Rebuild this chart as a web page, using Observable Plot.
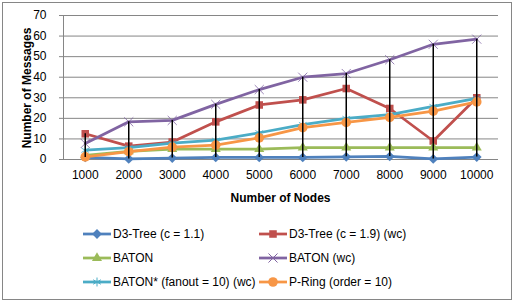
<!DOCTYPE html>
<html><head><meta charset="utf-8">
<script src="https://cdn.jsdelivr.net/npm/d3@7"></script>
<script src="https://cdn.jsdelivr.net/npm/@observablehq/plot@0.6"></script>
<style>
body{margin:0;background:#fff;font-family:"Liberation Sans",Arial,sans-serif;}
#wrap{position:relative;width:514px;height:302px;overflow:hidden;background:#fff;}
#chart{position:absolute;left:0;top:0;}
#border{position:absolute;left:2px;top:2px;width:510px;height:298px;border:1px solid #868686;box-sizing:border-box;pointer-events:none;}
#legend{position:absolute;left:83px;top:222px;display:grid;grid-template-columns:176px auto;grid-auto-rows:24px;font-size:12px;color:#000;}
.item{display:flex;align-items:center;white-space:nowrap;}
.item svg{margin-right:2px;flex:none;}
.title{position:absolute;font-weight:bold;font-size:12px;color:#000;white-space:nowrap;line-height:14px;}
#xtitle{left:180px;width:201px;text-align:center;top:191px;}
#ytitle{left:27px;top:88px;width:0;height:0;}
#ytitle span{position:absolute;left:0;top:0;transform:translate(-50%,-50%) rotate(-90deg);}
[aria-label="y-axis tick"]{stroke:#868686;}
</style></head>
<body>
<div id="wrap"><div id="chart"></div>
<div id="xtitle" class="title">Number of Nodes</div>
<div id="ytitle" class="title"><span>Number of Messages</span></div>
<div id="legend"></div><div id="border"></div></div>
<script>
const nodes = ["1000","2000","3000","4000","5000","6000","7000","8000","9000","10000"];
const seriesNames = ["D3-Tree (c = 1.1)","D3-Tree (c = 1.9) (wc)","BATON","BATON (wc)","BATON* (fanout = 10) (wc)","P-Ring (order = 10)"];
const d3tree11 = [1, 0.3, 0.7, 1, 1, 1, 1.3, 1.5, 0.3, 1.2];
const d3tree19wc = [12.5, 6.5, 8.5, 18.3, 26.5, 29, 34.5, 24.8, 9, 30];
const baton = [2, 4, 5, 5, 5, 5.8, 5.8, 5.8, 5.8, 5.8];
const batonWc = [7.8, 18.3, 19, 26.8, 34, 40, 41.8, 48.5, 56, 58.5];
const batonStarWc = [4.5, 5.8, 8, 9.4, 13, 17, 20, 21.8, 25.8, 29.7];
const pring = [1.3, 3.8, 6, 7, 10.5, 15.5, 18, 20.5, 23.5, 28];
const yTicks = [0,10,20,30,40,50,60,70];

const seriesValues = [d3tree11, d3tree19wc, baton, batonWc, batonStarWc, pring];
const colors = ["#4F81BD","#C0504D","#9BBB59","#8064A2","#4BACC6","#F79646"];
const symbols = ["diamond2","square2","triangle2","times","asterisk","circle"];
const radii = [4.4, 4.8, 4.8, 4.2, 4.2, 4.8];
const strokeSym = [false,false,false,true,true,false];

const rows = [];
seriesValues.forEach((vals, s) => vals.forEach((v, i) => rows.push({s, name: seriesNames[s], i: i + 1, node: nodes[i], v})));
const stats = nodes.map((n, i) => {
  const vs = seriesValues.map(a => a[i]);
  return {i: i + 1, lo: d3.min(vs), hi: d3.max(vs)};
});

const marks = [
  Plot.ruleY(yTicks, {stroke: "#868686", strokeWidth: 1}),
  Plot.ruleX([0.5], {stroke: "#868686", strokeWidth: 1})
];
seriesValues.forEach((vals, s) => {
  const d = rows.filter(r => r.s === s);
  marks.push(Plot.lineY(d, {x: "i", y: "v", stroke: colors[s], strokeWidth: 2.75}));
  if (strokeSym[s]) {
    marks.push(Plot.dot(d, {x: "i", y: "v", symbol: symbols[s], stroke: colors[s], strokeWidth: 1, r: radii[s], strokeOpacity: 0.8}));
  } else {
    marks.push(Plot.dot(d, {x: "i", y: "v", symbol: symbols[s], fill: colors[s], stroke: "none", r: radii[s]}));
  }
});
marks.push(Plot.ruleX(stats, {x: "i", y1: "lo", y2: "hi", stroke: "#000", strokeWidth: 1.5}));

const chart = Plot.plot({
  width: 514, height: 210,
  marginTop: 15, marginBottom: 51, marginLeft: 63, marginRight: 16,
  style: {fontFamily: "Liberation Sans, Arial, sans-serif", fontSize: "12px", color: "#000", background: "transparent"},
  x: {domain: [0.5, 10.5], ticks: nodes.map((n, i) => i + 1), tickFormat: i => nodes[i - 1], tickSize: 0, tickPadding: 11, label: null},
  y: {domain: [0, 70], ticks: yTicks, tickSize: 4, tickPadding: 13, label: null},
  marks
});
document.getElementById("chart").appendChild(chart);

const legend = document.getElementById("legend");
const symMap = {diamond2: d3.symbolDiamond2, square2: d3.symbolSquare2, triangle2: d3.symbolTriangle2, times: d3.symbolTimes, asterisk: d3.symbolAsterisk, circle: d3.symbolCircle};
seriesNames.forEach((name, s) => {
  const item = document.createElement("div");
  item.className = "item";
  const svg = d3.create("svg").attr("width", 28).attr("height", 14);
  svg.append("line").attr("x1", 0).attr("x2", 28).attr("y1", 7).attr("y2", 7).attr("stroke", colors[s]).attr("stroke-width", 2.75);
  const size = Math.PI * radii[s] * radii[s];
  const p = svg.append("path").attr("transform", "translate(14,7)").attr("d", d3.symbol(symMap[symbols[s]], size)());
  if (strokeSym[s]) p.attr("fill", "none").attr("stroke", colors[s]).attr("stroke-width", 1);
  else p.attr("fill", colors[s]);
  item.appendChild(svg.node());
  const t = document.createElement("span");
  t.textContent = name;
  item.appendChild(t);
  legend.appendChild(item);
});
</script>
</body></html>
